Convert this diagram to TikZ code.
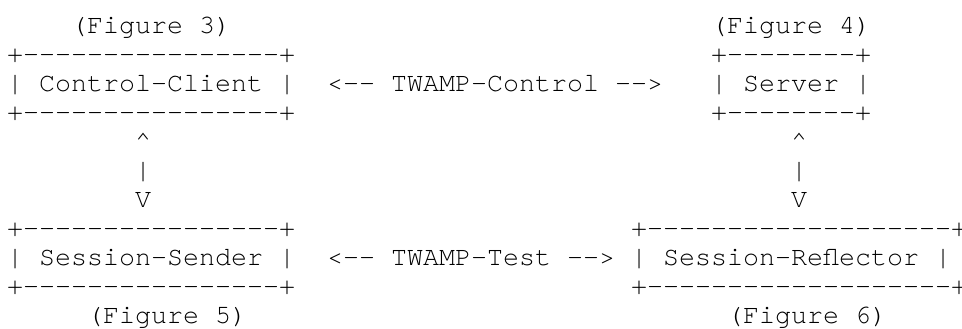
\documentclass[tikz,border=0pt]{standalone}
\usepackage{fontspec}
\setmonofont{TeX Gyre Cursor}
\begin{document}
\begin{tikzpicture}[x=1pt,y=1pt,
  ascii/.style={anchor=base west,inner sep=0pt,outer sep=0pt,font=\fontsize{26.67}{29}\ttfamily,text=black}]
\useasboundingbox (0,0) rectangle (962,329);
% column c -> x = 7 + 16 c ; row r -> baseline y = 329 - (34 + 29 r)
\newcommand\px[1]{\fpeval{7+16*(#1)}}
\newcommand\py[1]{\fpeval{329-34-29*(#1)}}
% row 0
\node[ascii] (f3) at (\px{4},\py{0}) {(Figure 3)};
\node[ascii] (f4) at (\px{44},\py{0}) {(Figure 4)};
% Control-Client box
\node[ascii] (cct) at (\px{0},\py{1}) {+----------------+};
\node[ascii] (cc)  at (\px{0},\py{2}) {| Control-Client |};
\node[ascii] (ccb) at (\px{0},\py{3}) {+----------------+};
% TWAMP-Control
\node[ascii] (tc) at (\px{20},\py{2}) {<-- TWAMP-Control -->};
% Server box
\node[ascii] (svt) at (\px{44},\py{1}) {+--------+};
\node[ascii] (sv)  at (\px{44},\py{2}) {| Server |};
\node[ascii] (svb) at (\px{44},\py{3}) {+--------+};
% left vertical arrow
\node[ascii] (la1) at (\px{8},\py{4}) {\textasciicircum};
\node[ascii] (la2) at (\px{8},\py{5}) {|};
\node[ascii] (la3) at (\px{8},\py{6}) {V};
% right vertical arrow
\node[ascii] (ra1) at (\px{49},\py{4}) {\textasciicircum};
\node[ascii] (ra2) at (\px{49},\py{5}) {|};
\node[ascii] (ra3) at (\px{49},\py{6}) {V};
% Session-Sender box
\node[ascii] (sst) at (\px{0},\py{7}) {+----------------+};
\node[ascii] (ss)  at (\px{0},\py{8}) {| Session-Sender |};
\node[ascii] (ssb) at (\px{0},\py{9}) {+----------------+};
% TWAMP-Test
\node[ascii] (tt) at (\px{20},\py{8}) {<-- TWAMP-Test -->};
% Session-Reflector box
\node[ascii] (srt) at (\px{39},\py{7}) {+-------------------+};
\node[ascii] (sr)  at (\px{39},\py{8}) {| Session-Reflector |};
\node[ascii] (srb) at (\px{39},\py{9}) {+-------------------+};
% row 10
\node[ascii] (f5) at (\px{5},\py{10}) {(Figure 5)};
\node[ascii] (f6) at (\px{45},\py{10}) {(Figure 6)};
\end{tikzpicture}
\end{document}
